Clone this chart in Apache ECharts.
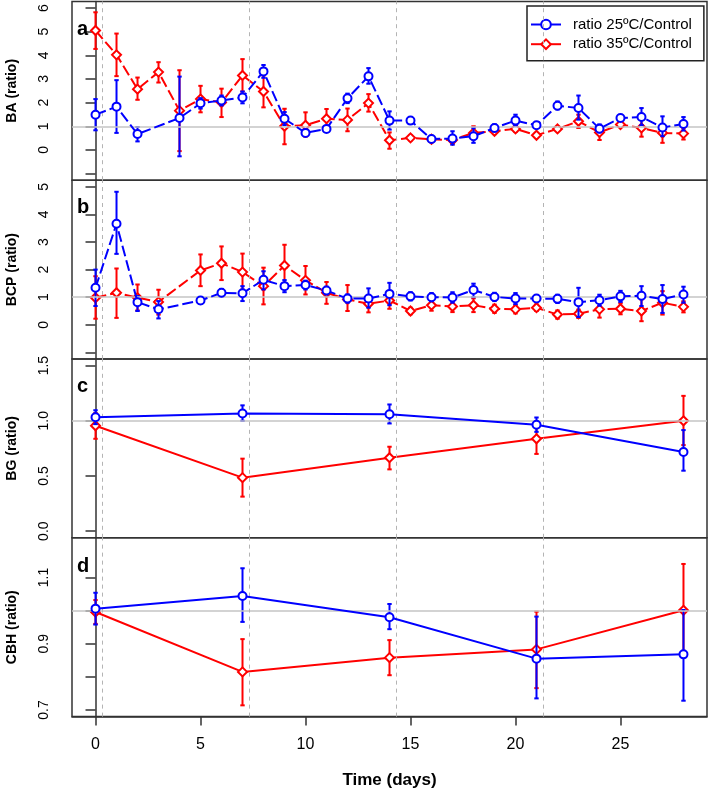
<!DOCTYPE html>
<html><head><meta charset="utf-8">
<script src="https://cdn.jsdelivr.net/npm/echarts@6/dist/echarts.min.js"></script>
<style>html,body{margin:0;padding:0;background:#fff}#c{width:709px;height:793px}</style>
</head><body><div id="c"></div>
<script>
// ---------- DATA ----------
const daysAB = [0,1,2,3,4,5,6,7,8,9,10,11,12,13,14,15,16,17,18,19,20,21,22,23,24,25,26,27,28];
const daysCD = [0,7,14,21,28];
const dashedDays = [0.3,7.3,14.3,21.3];
const xTicks = [0,5,10,15,20,25];
const seriesNames = ['ratio 25ºC/Control','ratio 35ºC/Control'];
const panelLetters = ['a','b','c','d'];
const yTitles = ['BA (ratio)','BCP (ratio)','BG (ratio)','CBH (ratio)'];

// Panel a: BA
const baBlueMean = [1.49,1.83,0.67,null,1.35,1.97,2.09,2.22,3.32,1.32,0.72,0.89,2.18,3.11,1.24,1.24,0.46,0.48,0.58,0.93,1.24,1.04,1.87,1.77,0.90,1.35,1.39,0.95,1.10];
const baBlueLo   = [0.83,0.72,0.36,null,-0.27,1.75,1.88,1.97,3.05,1.05,0.60,0.77,1.98,2.80,0.86,1.12,0.34,0.22,0.30,0.78,1.02,0.94,1.71,1.28,0.74,1.23,1.05,0.58,0.82];
const baBlueHi   = [2.15,2.95,0.97,null,3.10,2.19,2.30,2.47,3.59,1.60,0.84,1.01,2.38,3.46,1.63,1.36,0.58,0.79,0.93,1.08,1.49,1.14,2.05,2.30,1.08,1.47,1.77,1.42,1.39];
const baRedMean  = [5.05,4.02,2.57,3.29,1.66,2.15,2.01,3.15,2.47,1.00,1.04,1.32,1.27,1.98,0.41,0.51,0.45,0.42,0.72,0.79,0.89,0.62,0.89,1.21,0.74,1.07,0.93,0.72,0.69];
const baRedLo    = [4.27,3.12,2.12,2.85,-0.05,1.59,1.39,2.47,1.80,0.24,0.56,0.90,0.79,1.62,0.05,0.40,0.33,0.27,0.44,0.67,0.77,0.54,0.81,0.93,0.42,0.97,0.56,0.30,0.44];
const baRedHi    = [5.82,4.92,3.06,3.71,3.37,2.71,2.59,3.84,3.15,1.74,1.59,1.73,1.75,2.36,0.74,0.62,0.57,0.57,1.00,0.91,1.01,0.70,0.97,1.49,1.05,1.17,1.28,1.00,0.93];

// Panel b: BCP
const bcpBlueMean = [1.34,3.66,0.82,0.56,null,0.88,1.16,1.14,1.63,1.40,1.44,1.24,0.95,0.95,1.12,1.03,1.00,0.99,1.26,1.01,0.95,0.95,0.94,0.82,0.89,1.03,1.05,0.93,1.10];
const bcpBlueLo   = [0.68,2.57,0.50,0.23,null,0.76,1.02,0.86,1.28,1.18,1.28,1.10,0.80,0.62,0.71,0.88,0.85,0.80,1.00,0.86,0.75,0.83,0.79,0.28,0.69,0.83,0.68,0.43,0.80];
const bcpBlueHi   = [2.00,4.82,1.04,0.86,null,1.00,1.30,1.40,1.94,1.62,1.60,1.38,1.10,1.32,1.52,1.18,1.15,1.18,1.49,1.16,1.15,1.07,1.09,1.34,1.09,1.23,1.40,1.44,1.38];
const bcpRedMean  = [0.98,1.16,0.98,0.83,null,1.97,2.23,1.91,1.40,2.15,1.61,1.16,0.92,0.76,0.88,0.50,0.71,0.66,0.71,0.58,0.56,0.62,0.37,0.40,0.56,0.58,0.50,0.80,0.65];
const bcpRedLo    = [0.22,0.25,0.52,0.37,null,1.40,1.62,1.27,0.74,1.38,1.10,0.76,0.50,0.45,0.58,0.38,0.51,0.46,0.46,0.43,0.41,0.50,0.22,0.25,0.26,0.38,0.13,0.37,0.45];
const bcpRedHi    = [1.76,2.04,1.46,1.27,null,2.55,2.84,2.58,2.07,2.90,2.13,1.55,1.44,1.07,1.18,0.62,0.91,0.86,0.96,0.73,0.71,0.74,0.52,0.55,0.86,0.78,0.92,1.22,0.85];

// Panel c: BG
const bgBlueMean = [1.033,1.066,1.060,0.964,0.717];
const bgBlueLo   = [0.970,1.000,0.976,0.900,0.548];
const bgBlueHi   = [1.096,1.140,1.148,1.030,0.916];
const bgRedMean  = [0.955,0.485,0.666,0.837,1.000];
const bgRedLo    = [0.837,0.313,0.560,0.700,0.780];
const bgRedHi    = [1.070,0.657,0.765,0.946,1.226];

// Panel d: CBH
const cbhBlueMean = [1.006,1.044,0.980,0.855,0.868];
const cbhBlueLo   = [0.958,0.966,0.944,0.735,0.728];
const cbhBlueHi   = [1.054,1.128,1.020,0.982,1.002];
const cbhRedMean  = [0.996,0.815,0.858,0.883,1.001];
const cbhRedLo    = [0.960,0.714,0.805,0.766,0.860];
const cbhRedHi    = [1.032,0.914,0.911,0.997,1.141];

// y axis ticks / labels
const aTicks = [-1,0,1,2,3,4,5,6], aLabels = [0,1,2,3,4,5,6];
const bTicks = [-1,0,1,2,3,4,5], bLabels = [0,1,2,3,4,5];
const cTicks = [0,0.5,1,1.5], cLabels = [0,0.5,1,1.5];
const dTicks = [0.7,0.8,0.9,1.0,1.1], dLabels = [0.7,0.9,1.1];

// ---------- LAYOUT ----------
const FF = 'Liberation Sans, Arial, sans-serif';
const BLUE = '#0000ff', RED = '#ff0000';
const gridTops = [1.4, 180.2, 359.0, 537.8];
const gridH = 178.8;
const yRanges = [[-1.28,6.28],[-1.24,5.24],[-0.06,1.56],[0.68,1.22]];
const letterY = [29, 207, 386, 566];

const panels = [
  {days: daysAB, blue:[baBlueMean,baBlueLo,baBlueHi], red:[baRedMean,baRedLo,baRedHi], ticks:aTicks, labels:aLabels, fmt:v=>String(v), dash:[11,4]},
  {days: daysAB, blue:[bcpBlueMean,bcpBlueLo,bcpBlueHi], red:[bcpRedMean,bcpRedLo,bcpRedHi], ticks:bTicks, labels:bLabels, fmt:v=>String(v), dash:[11,4]},
  {days: daysCD, blue:[bgBlueMean,bgBlueLo,bgBlueHi], red:[bgRedMean,bgRedLo,bgRedHi], ticks:cTicks, labels:cLabels, fmt:v=>Number(v).toFixed(1), dash:'solid'},
  {days: daysCD, blue:[cbhBlueMean,cbhBlueLo,cbhBlueHi], red:[cbhRedMean,cbhRedLo,cbhRedHi], ticks:dTicks, labels:dLabels, fmt:v=>Number(v).toFixed(1), dash:'solid'}
];

const grid = [], xAxis = [], yAxis = [], series = [], graphic = [];

function errSeries(i, days, lo, hi, color, z) {
  const data = [];
  days.forEach((d,k)=>{ if (lo[k] != null && hi[k] != null) data.push([d, lo[k], hi[k]]); });
  return {
    type:'custom', xAxisIndex:i, yAxisIndex:i, z:z, silent:true, clip:false,
    encode:{x:0, y:[1,2]},
    data:data,
    renderItem:function(params, api){
      const x = api.value(0), l = api.value(1), h = api.value(2);
      const p1 = api.coord([x, h]), p2 = api.coord([x, l]);
      const c = 2.2;
      const st = {stroke:color, lineWidth:2};
      return {type:'group', children:[
        {type:'line', shape:{x1:p1[0], y1:p1[1], x2:p2[0], y2:p2[1]}, style:st},
        {type:'line', shape:{x1:p1[0]-c, y1:p1[1], x2:p1[0]+c, y2:p1[1]}, style:st},
        {type:'line', shape:{x1:p2[0]-c, y1:p2[1], x2:p2[0]+c, y2:p2[1]}, style:st}
      ]};
    }
  };
}

function lineSeries(i, name, days, mean, color, symbol, size, dash, z) {
  const data = [];
  days.forEach((d,k)=>{ if (mean[k] != null) data.push([d, mean[k]]); });
  return {
    type:'line', name:name, xAxisIndex:i, yAxisIndex:i, z:z, data:data,
    symbol:symbol, symbolSize:size, showAllSymbol:true,
    itemStyle:{color:color, borderColor:color, borderWidth:2},
    lineStyle:{color:color, width:2, type:dash},
    emphasis:{disabled:true}, silent:true
  };
}

panels.forEach((p,i)=>{
  grid.push({left:72, width:635, top:gridTops[i], height:gridH, show:true, borderColor:'#333', borderWidth:1.5,
    backgroundColor:'transparent', containLabel:false, outerBoundsMode:'none'});
  const last = i === 3;
  xAxis.push({
    type:'value', gridIndex:i, min:-1.12, max:29.12, show:last,
    splitLine:{show:false},
    axisLine:{show:true, lineStyle:{color:'#333', width:1.5}},
    axisTick:{show:true, length:9, customValues:xTicks, lineStyle:{color:'#333', width:1.5}},
    axisLabel:{customValues:xTicks, margin:20, color:'#000', fontSize:16, fontFamily:FF},
    name: last ? 'Time (days)' : '', nameLocation:'middle', nameGap:55,
    nameTextStyle:{fontWeight:'bold', fontSize:17, color:'#000', fontFamily:FF}
  });
  yAxis.push({
    type:'value', gridIndex:i, min:yRanges[i][0], max:yRanges[i][1],
    splitLine:{show:false},
    axisLine:{show:true, lineStyle:{color:'#333', width:1.5}},
    axisTick:{show:true, length:10, customValues:p.ticks, lineStyle:{color:'#333', width:1.5}},
    axisLabel:{customValues:p.labels, rotate:90, margin:21, formatter:p.fmt, color:'#000', fontSize:14, fontFamily:FF},
    name:yTitles[i], nameLocation:'middle', nameGap:53,
    nameTextStyle:{fontWeight:'bold', fontSize:14, color:'#000', fontFamily:FF}
  });
  // reference lines carrier
  series.push({
    type:'line', xAxisIndex:i, yAxisIndex:i, data:[], z:1, silent:true,
    markLine:{silent:true, symbol:'none', label:{show:false}, animation:false,
      data:[{yAxis:1, lineStyle:{color:'#c4c4c4', width:1.5, type:'solid'}}]
        .concat(dashedDays.map(d=>({xAxis:d, lineStyle:{color:'#b4b4b4', width:1, type:[4,4]}})))}
  });
  series.push(errSeries(i, p.days, p.red[1], p.red[2], RED, 2));
  series.push(lineSeries(i, seriesNames[1], p.days, p.red[0], RED, 'emptyDiamond', 9, p.dash, 3));
  series.push(errSeries(i, p.days, p.blue[1], p.blue[2], BLUE, 4));
  series.push(lineSeries(i, seriesNames[0], p.days, p.blue[0], BLUE, 'emptyCircle', 8, p.dash, 5));
  graphic.push({type:'text', x:77, y:letterY[i], z:10,
    style:{text:panelLetters[i], font:'bold 20px ' + FF, fill:'#000', verticalAlign:'middle'}});
});

const chart = echarts.init(document.getElementById('c'), null, {renderer:'canvas'});
chart.setOption({
  animation:false,
  backgroundColor:'#fff',
  grid:grid, xAxis:xAxis, yAxis:yAxis, series:series, graphic:graphic,
  legend:{
    data:seriesNames, orient:'vertical', left:527, top:6,
    padding:[11,12,9,3], itemGap:4.7, itemWidth:30, itemHeight:12,
    borderColor:'#222', borderWidth:1.5, backgroundColor:'#fff',
    lineStyle:{type:'solid', width:2},
    textStyle:{fontSize:15, color:'#000', fontFamily:FF, padding:[0,0,0,7]},
    selectedMode:false
  }
});
</script></body></html>
